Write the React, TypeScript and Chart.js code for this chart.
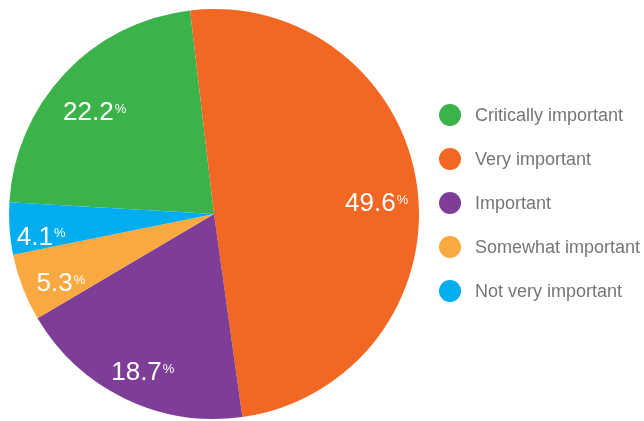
import React, { useEffect, useRef } from "react";
import { Chart, registerables } from "chart.js";

Chart.register(...registerables);

const categories = [
  "Critically important",
  "Very important",
  "Important",
  "Somewhat important",
  "Not very important",
];
const shares = [22.2, 49.6, 18.7, 5.3, 4.1];
const sliceColors = ["#3BB34A", "#F26722", "#7E3E98", "#F9A93F", "#00AEEF"];

const FONT = '"Liberation Sans", Arial, sans-serif';

const sliceLabels = {
  id: "sliceLabels",
  afterDatasetsDraw(chart: any) {
    const ctx = chart.ctx;
    const meta = chart.getDatasetMeta(0);
    const values = chart.data.datasets[0].data as number[];
    meta.data.forEach((arc: any, i: number) => {
      const p = arc.getProps(["x", "y", "startAngle", "endAngle", "outerRadius"], true);
      const span = p.endAngle - p.startAngle;
      const mid = (p.startAngle + p.endAngle) / 2;
      const factor = span < 0.3 ? 0.845 : 0.8;
      const cx = p.x + Math.cos(mid) * p.outerRadius * factor;
      const cy = p.y + Math.sin(mid) * p.outerRadius * factor + 9;
      const num = String(values[i]);
      const big = 26;
      const small = 13;
      ctx.save();
      ctx.fillStyle = "#ffffff";
      ctx.textBaseline = "alphabetic";
      ctx.textAlign = "left";
      ctx.font = `${big}px ${FONT}`;
      const nw = ctx.measureText(num).width;
      ctx.font = `${small}px ${FONT}`;
      const pw = ctx.measureText("%").width;
      const gap = 1;
      const total = nw + gap + pw;
      const x0 = cx - total / 2;
      const capH = big * 0.716;
      ctx.font = `${big}px ${FONT}`;
      ctx.fillText(num, x0, cy + capH / 2);
      ctx.font = `${small}px ${FONT}`;
      ctx.fillText("%", x0 + nw + gap, cy - capH / 2 + small * 0.716 + 2);
      ctx.restore();
    });
  },
};

const LEGEND_X = 450;
const LEGEND_Y0 = 115;
const LEGEND_STEP = 44;

const sideLegend = {
  id: "sideLegend",
  afterDraw(chart: any) {
    const ctx = chart.ctx;
    const labels = chart.data.labels as string[];
    const colors = chart.data.datasets[0].backgroundColor as string[];
    ctx.save();
    labels.forEach((label, i) => {
      const y = LEGEND_Y0 + i * LEGEND_STEP;
      ctx.beginPath();
      ctx.arc(LEGEND_X, y, 11, 0, Math.PI * 2);
      ctx.fillStyle = colors[i];
      ctx.fill();
      ctx.font = `18px ${FONT}`;
      ctx.fillStyle = "#767676";
      ctx.textBaseline = "middle";
      ctx.textAlign = "left";
      ctx.fillText(label, LEGEND_X + 25, y + 1);
    });
    ctx.restore();
  },
};

export default function App() {
  const ref = useRef<HTMLCanvasElement | null>(null);
  useEffect(() => {
    document.body.style.margin = "0";
    const chart = new Chart(ref.current as HTMLCanvasElement, {
      type: "pie",
      data: {
        labels: categories,
        datasets: [
          {
            data: shares,
            backgroundColor: sliceColors,
            borderWidth: 0,
          },
        ],
      },
      options: {
        responsive: false,
        animation: false,
        rotation: -86.7,
        layout: { padding: { left: 9, top: 9, right: 225, bottom: 2 } },
        plugins: {
          legend: { display: false },
          tooltip: { enabled: false },
        },
      },
      plugins: [sliceLabels, sideLegend],
    });
    return () => chart.destroy();
  }, []);
  return (
    <div style={{ position: "fixed", left: 0, top: 0, width: 644, height: 421, background: "#fff" }}>
      <canvas ref={ref} width={644} height={421} />
    </div>
  );
}
